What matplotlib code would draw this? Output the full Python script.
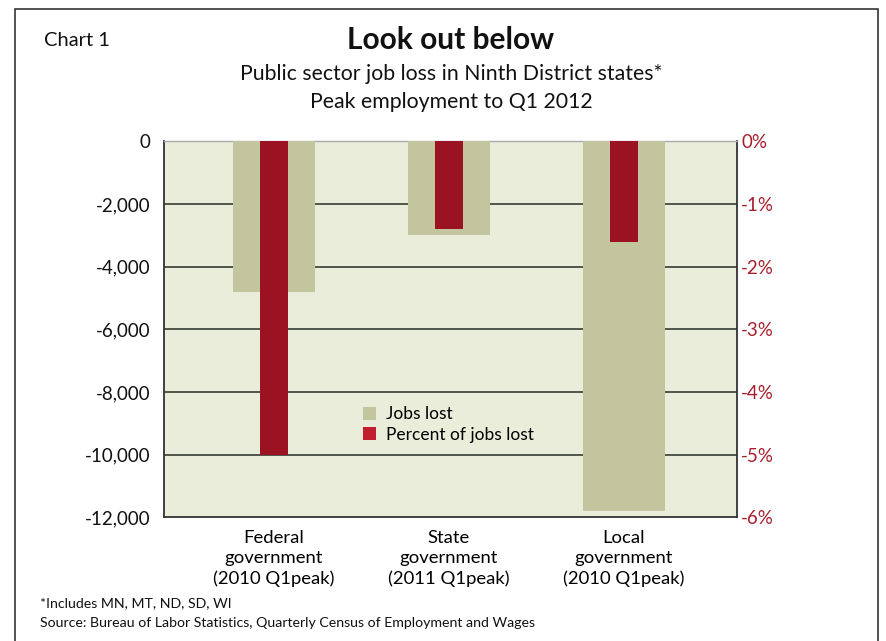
import matplotlib
matplotlib.use("Agg")
import matplotlib.pyplot as plt
from matplotlib.patches import Rectangle, Patch
from matplotlib.ticker import FuncFormatter

plt.rcParams['font.family'] = ['Lato', 'DejaVu Sans']

categories = ["Federal\ngovernment\n(2010 Q1peak)",
              "State\ngovernment\n(2011 Q1peak)",
              "Local\ngovernment\n(2010 Q1peak)"]
jobs_lost = [-4800, -3000, -11800]
pct_lost = [-5.0, -1.4, -1.6]
left_ticks = [0, -2000, -4000, -6000, -8000, -10000, -12000]
right_ticks = [0, -1, -2, -3, -4, -5, -6]

BG = "#eaedda"
GRAY = "#c2c59d"
RED = "#9b1323"
RED_LEGEND = "#c11f30"
RED_TEXT = "#a81e2d"
GRID = "#50554a"

fig = plt.figure(figsize=(8.86, 6.41), dpi=100)

# outer frame (open at the bottom)
fig.add_artist(Rectangle((0.0166, -0.02), 0.9744, 1.006, transform=fig.transFigure,
                         fill=False, edgecolor="#333333", linewidth=1.2))

ax = fig.add_axes([0.1851, 0.1927, 0.6467, 0.5866])
ax.set_facecolor(BG)
x = list(range(len(categories)))

ax.bar(x, jobs_lost, width=0.47, color=GRAY, zorder=3)
ax.set_ylim(-12000, 0)
ax.set_xlim(-0.629, 2.646)
ax.set_yticks(left_ticks)
ax.yaxis.set_major_formatter(FuncFormatter(lambda v, p: f"{int(v):,}"))
ax.tick_params(axis='y', length=0, pad=10, labelsize=13.5, labelcolor="#111111")
ax.set_xticks(x)
ax.set_xticklabels(categories, fontsize=13.3, linespacing=1.3)
ax.tick_params(axis='x', length=0, pad=9)
for v in left_ticks[1:-1]:
    ax.axhline(v, color=GRID, linewidth=1.4, zorder=2)

for side in ['left', 'right', 'bottom']:
    ax.spines[side].set_color("#333333")
    ax.spines[side].set_linewidth(1.3)
ax.spines['top'].set_color("#aaaaaa")
ax.spines['top'].set_linewidth(1.0)

ax2 = ax.twinx()
ax2.bar(x, pct_lost, width=0.155, color=RED, zorder=4)
ax2.set_ylim(-6, 0)
ax2.set_yticks(right_ticks)
ax2.yaxis.set_major_formatter(FuncFormatter(lambda v, p: f"{int(round(v))}%"))
ax2.tick_params(axis='y', length=0, pad=3, labelsize=13.5, labelcolor=RED_TEXT)
for side in ['left', 'right', 'bottom', 'top']:
    ax2.spines[side].set_visible(False)

handles = [Patch(facecolor=GRAY, edgecolor='none', label="Jobs lost"),
           Patch(facecolor=RED_LEGEND, edgecolor='none', label="Percent of jobs lost")]
ax2.legend(handles=handles, loc='upper left', bbox_to_anchor=(0.335, 0.314),
           frameon=False, fontsize=12.5, handlelength=0.75, handleheight=0.75,
           handletextpad=0.6, labelspacing=0.25, borderaxespad=0)

fig.text(0.050, 0.937, "Chart 1", fontsize=14.5, ha='left', va='center', color="#111111")
fig.text(0.509, 0.937, "Look out below", fontsize=21.5, fontweight='bold',
         ha='center', va='center', color="#111111")
fig.text(0.509, 0.884, "Public sector job loss in Ninth District states*",
         fontsize=15.3, ha='center', va='center', color="#111111")
fig.text(0.509, 0.841, "Peak employment to Q1 2012",
         fontsize=15.3, ha='center', va='center', color="#111111")

fig.text(0.045, 0.059, "*Includes MN, MT, ND, SD, WI", fontsize=10.2,
         ha='left', va='center', color="#111111")
fig.text(0.045, 0.028, "Source: Bureau of Labor Statistics, Quarterly Census of Employment and Wages",
         fontsize=10.2, ha='left', va='center', color="#111111")

fig.savefig("out.png", dpi=100, facecolor="white")
